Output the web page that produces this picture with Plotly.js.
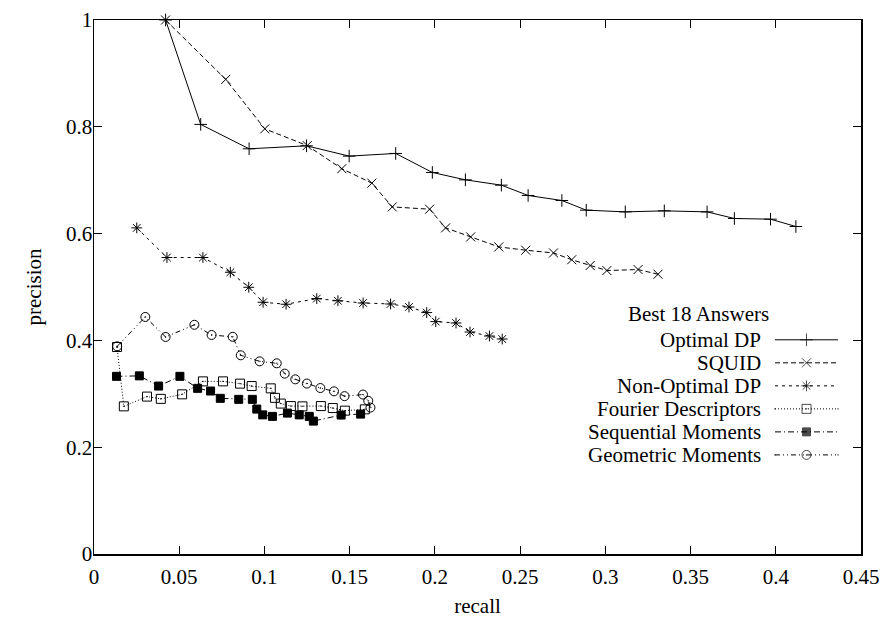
<!DOCTYPE html>
<html>
<head>
<meta charset="utf-8">
<script src="https://cdn.plot.ly/plotly-3.0.1.min.js"></script>
<style>
html,body{margin:0;padding:0;background:#fff;}
#chart{width:882px;height:620px;}
</style>
</head>
<body>
<div id="chart"></div>
<script>
// ---- data ----
const seriesNames = ["Optimal DP","SQUID","Non-Optimal DP","Fourier Descriptors","Sequential Moments","Geometric Moments"];

const optimalX = [0.0420,0.0626,0.0910,0.1247,0.1497,0.1770,0.1985,0.2179,0.2390,0.2547,0.2745,0.2888,0.3117,0.3346,0.3597,0.3757,0.3969,0.4118];
const optimalY = [1.000,0.8045,0.7588,0.7644,0.7451,0.7501,0.7145,0.7007,0.6907,0.6714,0.6620,0.6439,0.6407,0.6426,0.6407,0.6283,0.6270,0.6133];

const squidX = [0.0420,0.0773,0.1002,0.1251,0.1454,0.1630,0.1750,0.1969,0.2063,0.2210,0.2375,0.2533,0.2696,0.2803,0.2911,0.3009,0.3192,0.3309];
const squidY = [1.000,0.8888,0.7962,0.7648,0.7216,0.6945,0.6500,0.6457,0.6107,0.5938,0.5751,0.5689,0.5638,0.5511,0.5402,0.5308,0.5327,0.5239];

const nonOptX = [0.0251,0.0428,0.0639,0.0800,0.0908,0.0992,0.1127,0.1307,0.1431,0.1579,0.1740,0.1848,0.1952,0.2005,0.2124,0.2206,0.2320,0.2395];
const nonOptY = [0.6107,0.5552,0.5552,0.5276,0.4995,0.4714,0.4677,0.4783,0.4742,0.4701,0.4682,0.4626,0.4521,0.4352,0.4326,0.4157,0.4082,0.4026];

const fourierX = [0.0135,0.0175,0.0311,0.0392,0.0517,0.0639,0.0757,0.0857,0.0925,0.1037,0.1062,0.1096,0.1155,0.1223,0.1331,0.1401,0.1472,0.1589];
const fourierY = [0.3876,0.2765,0.2948,0.2905,0.2990,0.3233,0.3233,0.3190,0.3145,0.3102,0.2924,0.2817,0.2770,0.2765,0.2770,0.2733,0.2684,0.2709];

const seqX = [0.0132,0.0266,0.0379,0.0504,0.0608,0.0684,0.0741,0.0849,0.0929,0.0955,0.0990,0.1047,0.1135,0.1204,0.1263,0.1287,0.1450,0.1564];
const seqY = [0.3327,0.3336,0.3145,0.3327,0.3102,0.3052,0.2915,0.2896,0.2896,0.2714,0.2605,0.2577,0.2639,0.2605,0.2577,0.2489,0.2602,0.2620];

const geoX = [0.0136,0.0301,0.0420,0.0589,0.0690,0.0814,0.0861,0.0972,0.1072,0.1119,0.1181,0.1249,0.1328,0.1408,0.1470,0.1578,0.1609,0.1622];
const geoY = [0.3889,0.4439,0.4064,0.4292,0.4101,0.4067,0.3721,0.3608,0.3571,0.3378,0.3271,0.3192,0.3108,0.3046,0.2956,0.2986,0.2868,0.2742];

const xTickVals = [0,0.05,0.1,0.15,0.2,0.25,0.3,0.35,0.4,0.45];
const xTickText = ["0","0.05","0.1","0.15","0.2","0.25","0.3","0.35","0.4","0.45"];
const yTickVals = [0,0.2,0.4,0.6,0.8,1];
const yTickText = ["0","0.2","0.4","0.6","0.8","1"];

const legendTitle = "Best 18 Answers";

// ---- styles ----
const styles = [
  {dash:"solid",                     symbol:"cross-thin-open", size:9},
  {dash:"5px,3px",                   symbol:"x-thin-open",     size:9},
  {dash:"3px,4px",                   symbol:"asterisk-open",   size:9},
  {dash:"1px,2px",                   symbol:"square-open-dot", size:9},
  {dash:"6px,3px,1px,3px",           symbol:"square",          size:8},
  {dash:"5px,3px,1px,3px,1px,3px",   symbol:"circle-open-dot", size:9}
];
const xs = [optimalX,squidX,nonOptX,fourierX,seqX,geoX];
const ys = [optimalY,squidY,nonOptY,fourierY,seqY,geoY];

const traces = [];
for (let i=0;i<6;i++){
  traces.push({
    type:"scatter", mode:"lines+markers", name:seriesNames[i],
    x:xs[i], y:ys[i], showlegend:false, cliponaxis:false,
    line:{color:"black", width:1, dash:styles[i].dash},
    marker:{symbol:styles[i].symbol, size:styles[i].size, color:"black",
            line:{color:"black", width:1}}
  });
}

// ---- key drawn gnuplot-style (text right-justified, sample on the right) ----
// helper axes x2/y2 use pixel units of the plot area
const keyTextRight = 763, keySampleL = 775, keySampleR = 838;
const keyRowY = [339.5, 362.5, 385.5, 408.5, 431.5, 454.5];
const keyTitleY = 314, keyTitleX = 698;
const keyFont = {family:"Liberation Serif", size:21, color:"black"};
const annotations = [{
  xref:"x2", yref:"y2", x:keyTitleX, y:keyTitleY, text:legendTitle, showarrow:false,
  xanchor:"center", yanchor:"middle", font:keyFont
}];
for (let i=0;i<6;i++){
  annotations.push({
    xref:"x2", yref:"y2", x:keyTextRight, y:keyRowY[i], text:seriesNames[i], showarrow:false,
    xanchor:"right", yanchor:"middle", font:keyFont
  });
  traces.push({
    type:"scatter", mode:"lines+markers", xaxis:"x2", yaxis:"y2", showlegend:false, hoverinfo:"skip",
    x:[keySampleL,(keySampleL+keySampleR)/2,keySampleR], y:[keyRowY[i],keyRowY[i],keyRowY[i]],
    line:{color:"black", width:1, dash:styles[i].dash},
    marker:{symbol:styles[i].symbol, size:[0,styles[i].size,0], color:"black",
            line:{color:"black", width:[0,1,0]}}
  });
}

const axisFont = {family:"Liberation Serif", size:21, color:"black"};
const layout = {
  width:882, height:620,
  margin:{l:94, r:21, t:20, b:66},
  paper_bgcolor:"white", plot_bgcolor:"white",
  font:axisFont,
  showlegend:false,
  xaxis:{
    range:[0,0.45], tickvals:xTickVals, ticktext:xTickText,
    ticks:"inside", ticklen:8, tickwidth:1, tickcolor:"black",
    showline:true, linecolor:"black", linewidth:1.5, mirror:"ticks",
    showgrid:false, zeroline:false, tickfont:axisFont, ticklabelstandoff:3,
    title:{text:"recall", font:axisFont, standoff:10}
  },
  yaxis:{
    range:[0,1], tickvals:yTickVals, ticktext:yTickText,
    ticks:"inside", ticklen:8, tickwidth:1, tickcolor:"black",
    showline:true, linecolor:"black", linewidth:1.5, mirror:"ticks",
    showgrid:false, zeroline:false, tickfont:axisFont, ticklabelstandoff:-4,
    title:{text:"precision", font:axisFont, standoff:18}
  },
  xaxis2:{overlaying:"x", range:[94,861], visible:false, fixedrange:true},
  yaxis2:{overlaying:"y", range:[553.5,20], visible:false, fixedrange:true},
  annotations:annotations
};

Plotly.newPlot("chart", traces, layout, {staticPlot:true, displayModeBar:false});
</script>
</body>
</html>
